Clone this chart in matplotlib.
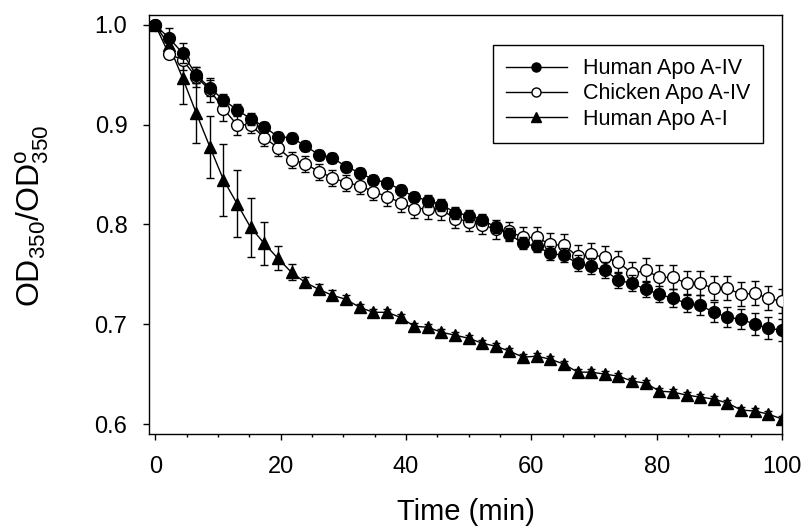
import matplotlib
matplotlib.use("Agg")
import matplotlib.pyplot as plt
from matplotlib.ticker import MultipleLocator, FormatStrFormatter
from matplotlib.lines import Line2D

plt.rcParams['font.family'] = ['Liberation Sans', 'DejaVu Sans']
plt.rcParams['mathtext.fontset'] = 'custom'
plt.rcParams['mathtext.rm'] = 'Liberation Sans'

time = [0, 2.17, 4.35, 6.52, 8.70, 10.87, 13.04, 15.22, 17.39, 19.57, 21.74, 23.91,
        26.09, 28.26, 30.43, 32.61, 34.78, 36.96, 39.13, 41.30, 43.48, 45.65, 47.83,
        50.00, 52.17, 54.35, 56.52, 58.70, 60.87, 63.04, 65.22, 67.39, 69.57, 71.74,
        73.91, 76.09, 78.26, 80.43, 82.61, 84.78, 86.96, 89.13, 91.30, 93.48, 95.65,
        97.83, 100.0]

human_a4 = [1.000, 0.987, 0.972, 0.950, 0.937, 0.925, 0.915, 0.906, 0.898, 0.888, 0.887,
            0.879, 0.870, 0.867, 0.858, 0.852, 0.845, 0.842, 0.835, 0.828, 0.824, 0.820,
            0.812, 0.809, 0.805, 0.797, 0.790, 0.781, 0.778, 0.771, 0.769, 0.761, 0.758,
            0.754, 0.744, 0.741, 0.735, 0.730, 0.726, 0.721, 0.719, 0.712, 0.707, 0.705,
            0.700, 0.696, 0.694]
human_a4_err = [0.002, 0.010, 0.010, 0.008, 0.008, 0.006, 0.006, 0.006, 0.005, 0.005, 0.005,
                0.005, 0.005, 0.005, 0.005, 0.005, 0.005, 0.005, 0.005, 0.005, 0.006, 0.006,
                0.006, 0.006, 0.006, 0.006, 0.006, 0.006, 0.006, 0.007, 0.007, 0.008, 0.008,
                0.008, 0.008, 0.008, 0.008, 0.008, 0.009, 0.009, 0.010, 0.010, 0.010, 0.010,
                0.011, 0.011, 0.011]

chicken_a4 = [1.000, 0.971, 0.965, 0.948, 0.935, 0.916, 0.900, 0.900, 0.887, 0.877, 0.865,
              0.861, 0.853, 0.847, 0.842, 0.839, 0.833, 0.828, 0.822, 0.816, 0.816, 0.815,
              0.806, 0.803, 0.800, 0.795, 0.793, 0.787, 0.787, 0.780, 0.779, 0.768, 0.770,
              0.767, 0.762, 0.751, 0.754, 0.747, 0.747, 0.741, 0.741, 0.736, 0.736, 0.730,
              0.731, 0.726, 0.723]
chicken_a4_err = [0.002, 0.004, 0.010, 0.010, 0.012, 0.012, 0.010, 0.008, 0.008, 0.008, 0.008,
                  0.008, 0.008, 0.008, 0.008, 0.008, 0.008, 0.009, 0.009, 0.009, 0.010, 0.010,
                  0.010, 0.010, 0.010, 0.010, 0.010, 0.010, 0.010, 0.011, 0.011, 0.011, 0.011,
                  0.011, 0.011, 0.011, 0.012, 0.012, 0.012, 0.012, 0.012, 0.012, 0.012, 0.012,
                  0.012, 0.012, 0.012]

human_a1 = [1.000, 0.980, 0.947, 0.912, 0.878, 0.845, 0.821, 0.797, 0.781, 0.766, 0.752,
            0.742, 0.735, 0.729, 0.725, 0.717, 0.712, 0.712, 0.707, 0.698, 0.697, 0.692,
            0.689, 0.686, 0.681, 0.678, 0.673, 0.667, 0.668, 0.665, 0.660, 0.652, 0.652,
            0.650, 0.648, 0.643, 0.641, 0.633, 0.632, 0.629, 0.627, 0.625, 0.621, 0.614,
            0.613, 0.610, 0.605]
human_a1_err = [0.002, 0.006, 0.026, 0.030, 0.031, 0.036, 0.034, 0.030, 0.022, 0.012, 0.008,
                0.005, 0.005, 0.005, 0.004, 0.003, 0.003, 0.003, 0.003, 0.003, 0.003, 0.003,
                0.003, 0.003, 0.003, 0.003, 0.003, 0.003, 0.003, 0.003, 0.003, 0.003, 0.003,
                0.003, 0.003, 0.003, 0.003, 0.003, 0.003, 0.003, 0.003, 0.003, 0.003, 0.003,
                0.003, 0.003, 0.003]

labels = ['Human Apo A-IV', 'Chicken Apo A-IV', 'Human Apo A-I']

fig = plt.figure(figsize=(8.08, 5.31), dpi=100)
ax = fig.add_axes([149/808, 1 - 434/531, (782-149)/808, (434-15)/531])

common = dict(color='black', lw=1.0, elinewidth=1.0, capsize=2.6, capthick=1.0,
              markeredgecolor='black', markeredgewidth=1.0, clip_on=True)
ax.errorbar(time, human_a1, yerr=human_a1_err, marker='^', ms=8.5,
            markerfacecolor='black', zorder=3, **common)
ax.errorbar(time, chicken_a4, yerr=chicken_a4_err, marker='o', ms=8.5,
            markerfacecolor='white', zorder=4, **common)
ax.errorbar(time, human_a4, yerr=human_a4_err, marker='o', ms=8.5,
            markerfacecolor='black', zorder=5, **common)

ax.set_xlim(-1, 100)
ax.set_ylim(0.59, 1.01)
ax.xaxis.set_major_locator(MultipleLocator(20))
ax.xaxis.set_minor_locator(MultipleLocator(5))
ax.yaxis.set_major_locator(MultipleLocator(0.1))
ax.yaxis.set_major_formatter(FormatStrFormatter('%.1f'))
ax.tick_params(axis='x', which='major', direction='out', length=4, width=1,
               labelsize=17, pad=12)
ax.tick_params(axis='x', which='minor', direction='out', length=2.5, width=1)
ax.tick_params(axis='y', which='major', direction='out', length=4.5, width=1,
               labelsize=17, pad=11)
for s in ax.spines.values():
    s.set_linewidth(1.0)

ax.set_xlabel('Time (min)', fontsize=21, labelpad=14)
ax.set_ylabel(r'OD$_{\mathregular{350}}$/OD$^{\mathregular{o}}_{\mathregular{350}}$',
              fontsize=23, labelpad=22)
ax.yaxis.set_label_coords(-0.155, 0.52)

handles = [Line2D([], [], color='black', lw=1, marker='o', ms=6.5, mfc='black', mec='black'),
           Line2D([], [], color='black', lw=1, marker='o', ms=6.5, mfc='white', mec='black'),
           Line2D([], [], color='black', lw=1, marker='^', ms=6.5, mfc='black', mec='black')]
leg = ax.legend(handles, labels, loc='upper right', bbox_to_anchor=(0.970, 0.928),
                borderaxespad=0, fontsize=15.5, handlelength=2.8, handletextpad=0.75,
                labelspacing=0.2, fancybox=False, framealpha=1, edgecolor='black',
                borderpad=0.6)
leg.get_frame().set_linewidth(1.0)

fig.savefig('out.png', dpi=100)
